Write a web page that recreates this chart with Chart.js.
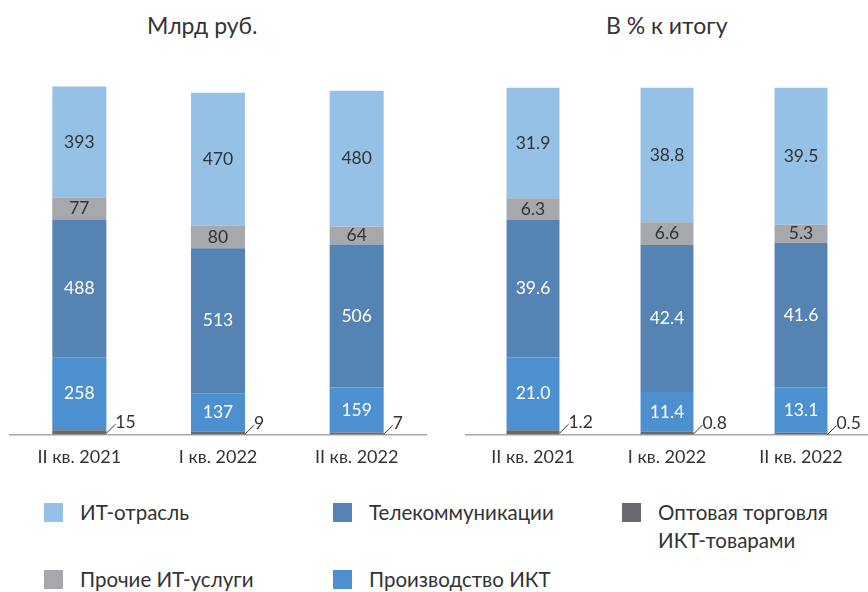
<!DOCTYPE html>
<html>
<head>
<meta charset="utf-8">
<script src="https://cdn.jsdelivr.net/npm/chart.js@4/dist/chart.umd.min.js"></script>
<style>
  body { margin: 0; width: 868px; height: 592px; background: #fff; font-family: Lato, sans-serif; color: #333; position: relative; overflow: hidden; }
  .sub { position: absolute; top: 11px; font-size: 23px; color: #333; }
  .box { position: absolute; }
  .lg { position: absolute; font-size: 20.5px; line-height: 28px; color: #333; }
  .sw { position: absolute; width: 19px; height: 19px; }
</style>
</head>
<body>
<div class="sub" style="left:147px">Млрд руб.</div>
<div class="sub" style="left:606px">В % к итогу</div>
<div class="box" style="left:0;top:0;width:434px;height:480px"><canvas id="left"></canvas></div>
<div class="box" style="left:440px;top:0;width:428px;height:480px"><canvas id="right"></canvas></div>
<div id="legend"></div>
<script>
const categories = ['II кв. 2021', 'I кв. 2022', 'II кв. 2022'];

// млрд руб.
const rubWholesale = [15, 9, 7];
const rubProduction = [258, 137, 159];
const rubTelecom = [488, 513, 506];
const rubOther = [77, 80, 64];
const rubIT = [393, 470, 480];

// % к итогу
const pctWholesale = [1.2, 0.8, 0.5];
const pctProduction = [21.0, 11.4, 13.1];
const pctTelecom = [39.6, 42.4, 41.6];
const pctOther = [6.3, 6.6, 5.3];
const pctIT = [31.9, 38.8, 39.5];

const series = [
  { name: 'Оптовая торговля\nИКТ-товарами', color: '#68696c', text: '#333' },
  { name: 'Производство ИКТ', color: '#4d90cf', text: '#fff' },
  { name: 'Телекоммуникации', color: '#5584b4', text: '#fff' },
  { name: 'Прочие ИТ-услуги', color: '#a7a8ab', text: '#333' },
  { name: 'ИТ-отрасль', color: '#95c1e6', text: '#333' }
];

const valueLabels = {
  id: 'valueLabels',
  afterDatasetsDraw(chart, args, opts) {
    const ctx = chart.ctx;
    ctx.save();
    ctx.font = '17.5px Lato';
    ctx.textBaseline = 'middle';
    chart.data.datasets.forEach((ds, i) => {
      chart.getDatasetMeta(i).data.forEach((bar, j) => {
        const p = bar.getProps(['x', 'y', 'base', 'width'], true);
        const v = ds.data[j];
        const txt = opts.decimals ? v.toFixed(1) : String(v);
        if (i === 0) {
          const x0 = p.x + p.width / 2, y0 = (p.y + p.base) / 2;
          ctx.strokeStyle = '#333';
          ctx.lineWidth = 1;
          ctx.beginPath();
          ctx.moveTo(x0, y0 + 1);
          ctx.lineTo(x0 + 9, y0 - 8);
          ctx.stroke();
          ctx.fillStyle = '#333';
          ctx.textAlign = 'left';
          ctx.fillText(txt, x0 + 9, y0 - 10);
        } else {
          ctx.fillStyle = series[i].text;
          ctx.textAlign = 'center';
          ctx.fillText(txt, p.x, (p.y + p.base) / 2);
        }
      });
    });
    ctx.restore();
  }
};

function stacked(id, sets, max, decimals, pad, barPct) {
  new Chart(document.getElementById(id), {
    type: 'bar',
    data: {
      labels: categories,
      datasets: sets.map((d, i) => ({
        label: series[i].name,
        data: d,
        backgroundColor: series[i].color,
        barPercentage: barPct,
        categoryPercentage: 1
      }))
    },
    options: {
      responsive: true,
      maintainAspectRatio: false,
      animation: false,
      layout: { padding: pad },
      plugins: { legend: { display: false }, tooltip: { enabled: false }, valueLabels: { decimals } },
      scales: {
        x: {
          stacked: true,
          grid: { display: false, drawTicks: false },
          border: { color: '#a6a6a6', width: 1.5 },
          ticks: { color: '#333', font: { family: 'Lato', size: 18 }, padding: 12 }
        },
        y: { stacked: true, display: false, min: 0, max }
      }
    },
    plugins: [valueLabels]
  });
}

stacked('left', [rubWholesale, rubProduction, rubTelecom, rubOther, rubIT], 1350, false,
  { top: 53, bottom: 0, left: 10, right: 8 }, 0.39);
stacked('right', [pctWholesale, pctProduction, pctTelecom, pctOther, pctIT], 110, true,
  { top: 53, bottom: 0, left: 26, right: 0 }, 0.395);

// легенда
const legendPos = [
  { i: 4, x: 44, y: 498 },
  { i: 2, x: 333, y: 498 },
  { i: 0, x: 622, y: 498 },
  { i: 3, x: 44, y: 565 },
  { i: 1, x: 333, y: 565 }
];
const lg = document.getElementById('legend');
legendPos.forEach(l => {
  const s = series[l.i];
  lg.insertAdjacentHTML('beforeend',
    `<div class="sw" style="left:${l.x}px;top:${l.y + 5}px;background:${s.color}"></div>` +
    `<div class="lg" style="left:${l.x + 36}px;top:${l.y}px">${s.name.replace('\n', '<br>')}</div>`);
});
</script>
</body>
</html>
